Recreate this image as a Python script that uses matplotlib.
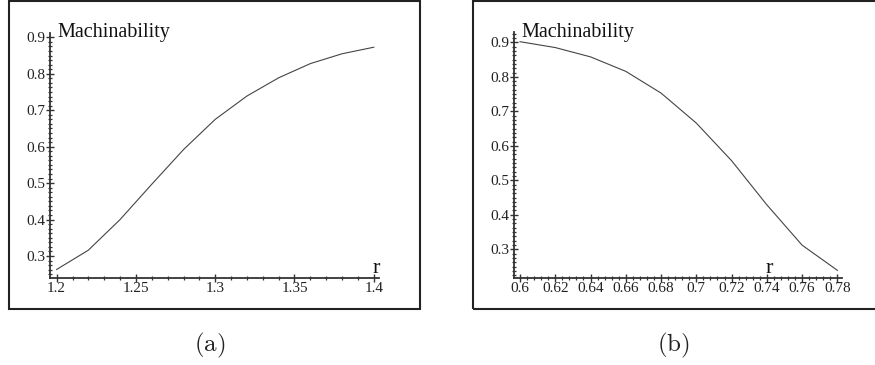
import numpy as np
import matplotlib.pyplot as plt
from matplotlib.patches import Rectangle
from matplotlib.ticker import MultipleLocator, AutoMinorLocator

plt.rcParams['font.family'] = 'Liberation Serif'
plt.rcParams['mathtext.fontset'] = 'cm'

# (a) машинная обрабатываемость при r от 1.2 до 1.4
r_a = [1.20, 1.22, 1.24, 1.26, 1.28, 1.30, 1.32, 1.34, 1.36, 1.38, 1.40]
m_a = [0.263, 0.316, 0.400, 0.497, 0.592, 0.675, 0.739, 0.789, 0.828, 0.855, 0.873]

# (b) при r от 0.6 до 0.78
r_b = [0.60, 0.62, 0.64, 0.66, 0.68, 0.70, 0.72, 0.74, 0.76, 0.78]
m_b = [0.902, 0.885, 0.858, 0.816, 0.753, 0.666, 0.557, 0.429, 0.312, 0.239]

W, H = 875, 365
fig = plt.figure(figsize=(W / 100, H / 100), dpi=100)


def fx(px):
    return px / W


def fy(py):
    return 1 - py / H


# рамки вокруг графиков
for x0, x1 in [(9, 420), (473, 880)]:
    fig.patches.append(Rectangle((fx(x0), fy(309)), fx(x1 - x0), (309 - 1) / H,
                                 transform=fig.transFigure, fill=False,
                                 edgecolor='#222222', linewidth=1.5))


def setup(ax, xs, ys, xlim, ylim, xmaj, xminor, yminor):
    ax.plot(xs, ys, color='#444444', linewidth=0.8)
    ax.set_xlim(*xlim)
    ax.set_ylim(*ylim)
    ax.spines['top'].set_visible(False)
    ax.spines['right'].set_visible(False)
    for s in ('left', 'bottom'):
        ax.spines[s].set_linewidth(1.3)
        ax.spines[s].set_color('#333333')
    ax.xaxis.set_major_locator(MultipleLocator(xmaj))
    ax.xaxis.set_minor_locator(AutoMinorLocator(xminor))
    ax.yaxis.set_major_locator(MultipleLocator(0.1))
    ax.yaxis.set_minor_locator(AutoMinorLocator(yminor))
    ax.tick_params(which='major', direction='inout', length=6, width=1.0,
                   labelsize=11, pad=0, color='#333333', labelcolor='#222222')
    ax.tick_params(which='minor', direction='inout', length=3.5, width=0.9,
                   color='#333333')
    ax.xaxis.set_major_formatter(plt.FuncFormatter(lambda v, p: f"{v:g}"))
    ax.yaxis.set_major_formatter(plt.FuncFormatter(lambda v, p: f"{v:g}"))
    ax.patch.set_alpha(0)


ax1 = fig.add_axes([fx(50), fy(278), fx(329), 245 / H])
setup(ax1, r_a, m_a, (1.1958, 1.4033), (0.2396, 0.912), 0.05, 5, 8)
fig.text(fx(57), fy(37), 'Machinability', fontsize=14.5, color='#111111')
fig.text(fx(376), fy(273), 'r', fontsize=16, color='#111111', ha='center')

ax2 = fig.add_axes([fx(514), fy(277.7), fx(328.3), 246 / H])
setup(ax2, r_b, m_b, (0.5966, 0.7828), (0.2176, 0.931), 0.02, 5, 8)
fig.text(fx(521), fy(37), 'Machinability', fontsize=14.5, color='#111111')
fig.text(fx(769), fy(273), 'r', fontsize=16, color='#111111', ha='center')

fig.text(fx(210), fy(345), r'$\mathrm{(a)}$', fontsize=18, ha='center', va='center', color='#222222')
fig.text(fx(673), fy(345), r'$\mathrm{(b)}$', fontsize=18, ha='center', va='center', color='#222222')

fig.savefig('out.png', dpi=100)
